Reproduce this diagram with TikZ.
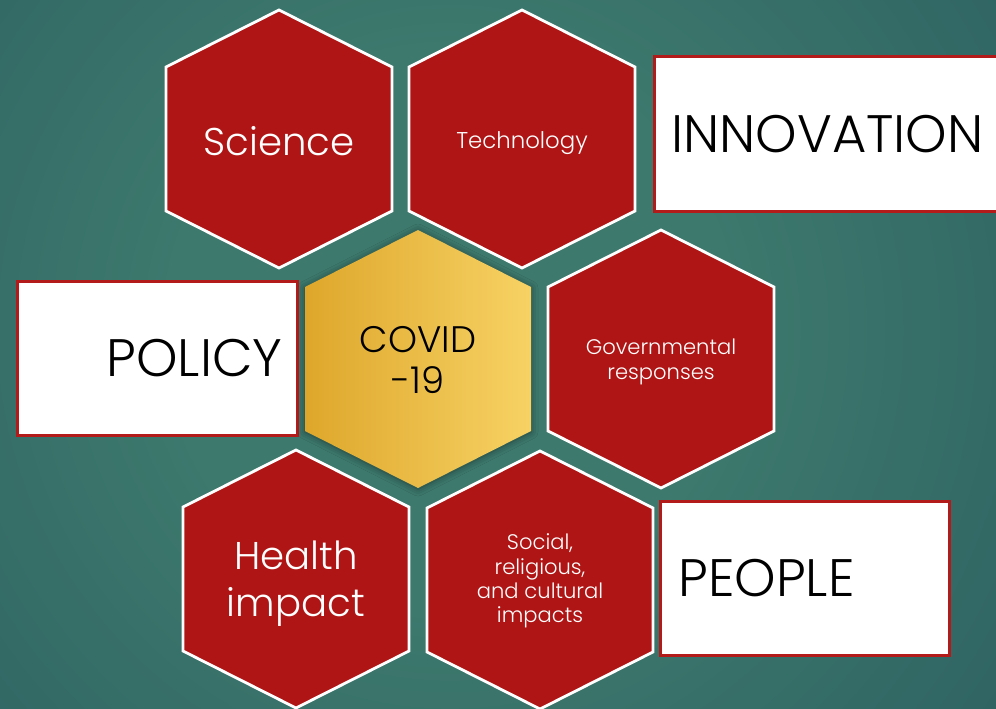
\documentclass[tikz,border=0pt]{standalone}
\usepackage{fontspec}
\setmainfont{Poppins}[UprightFont={* Light}]
\usepackage{tikz}
\usetikzlibrary{shadows.blur}

\definecolor{bglight}{HTML}{3D796D}
\definecolor{bgdark}{HTML}{23515A}
\definecolor{hexred}{HTML}{B01515}
\definecolor{boxred}{HTML}{B31B1B}
\definecolor{goldL}{HTML}{DEA72B}
\definecolor{goldR}{HTML}{F7D264}

\pgfdeclareradialshading{bgglow}{\pgfpoint{0bp}{0bp}}{%
  color(0bp)=(bglight); color(10bp)=(bglight);
  color(36bp)=(bgdark); color(50bp)=(bgdark)}

\begin{document}
\begin{tikzpicture}[
  hexcell/.style={fill=hexred, draw=white, line width=1.6pt, line join=miter},
  corecell/.style={left color=goldL, right color=goldR,
                   blur shadow={shadow xshift=0pt, shadow yshift=-0.6pt,
                                shadow blur radius=4pt, shadow opacity=45}},
  tagbox/.style={draw=boxred, line width=1.7pt, fill=white, inner sep=0pt},
  hexlabel/.style={text=white, align=center, inner sep=0pt},
  biglabel/.style={font=\fontsize{30}{36}\selectfont, text=black, inner sep=0pt},
]

% ============ BACKGROUND: teal glow ============
\useasboundingbox (0,0) rectangle (19.92,14.16);
\clip (0,0) rectangle (19.92,14.16);
\shade[shading=bgglow] (-5,-6.44) rectangle (23,21.56);

% ============ WHITE TAG BOXES ============
\node[tagbox, minimum width=7.04cm, minimum height=3.10cm, anchor=south west]
  (innov) at (13.06, 9.90) {};
\node[tagbox, minimum width=5.60cm, minimum height=3.08cm, anchor=south west]
  (policy) at (0.32, 5.42) {};
\node[tagbox, minimum width=5.78cm, minimum height=3.08cm, anchor=south west]
  (people) at (13.18, 1.02) {};

\node[biglabel] (innov-txt) at ([xshift=-0.06cm]innov.center) {INNOVATION};
\node[biglabel, anchor=east] (policy-txt) at ([xshift=-0.32cm]policy.east) {POLICY};
\node[biglabel, anchor=west] (people-txt) at ([xshift=0.38cm]people.west) {PEOPLE};

% ============ RED HEXAGONS ============
\foreach \cname/\cx/\cy in {sci/5.58/11.38, tech/10.44/11.38, gov/13.22/6.98,
                            health/5.92/2.58, social/10.80/2.56}{
  \coordinate (\cname) at (\cx,\cy);
  \draw[hexcell] (\cname) ++(0,2.58) -- ++(2.26,-1.14) -- ++(0,-2.88)
    -- ++(-2.26,-1.14) -- ++(-2.26,1.14) -- ++(0,2.88) -- cycle;
}

% ============ GOLD CORE ============
\coordinate (covid) at (8.36, 6.98);
\path[corecell] (covid) ++(0,2.58) -- ++(2.26,-1.14) -- ++(0,-2.88)
  -- ++(-2.26,-1.14) -- ++(-2.26,1.14) -- ++(0,2.88) -- cycle;

% ============ LABELS ============
\node[hexlabel, font=\fontsize{22}{26}\selectfont] (sci-txt) at (5.58, 11.34) {Science};
\node[hexlabel, font=\fontsize{13}{15}\selectfont, anchor=base] (tech-txt) at (10.44, 11.20) {Technology};
\node[align=center, inner sep=0pt, font=\fontsize{21}{22.8}\selectfont] (covid-txt) at (8.36, 6.96) {COVID\\-19};
\node[hexlabel, font=\fontsize{12}{14.2}\selectfont] (gov-txt) at (13.22, 6.92) {Governmental\\responses};
\node[hexlabel, font=\fontsize{22}{26.6}\selectfont] (health-txt) at (5.92, 2.48) {Health\\impact};
\node[hexlabel, font=\fontsize{12}{13.9}\selectfont] (social-txt) at (10.80, 2.54) {Social,\\religious,\\and cultural\\impacts};

\end{tikzpicture}
\end{document}
